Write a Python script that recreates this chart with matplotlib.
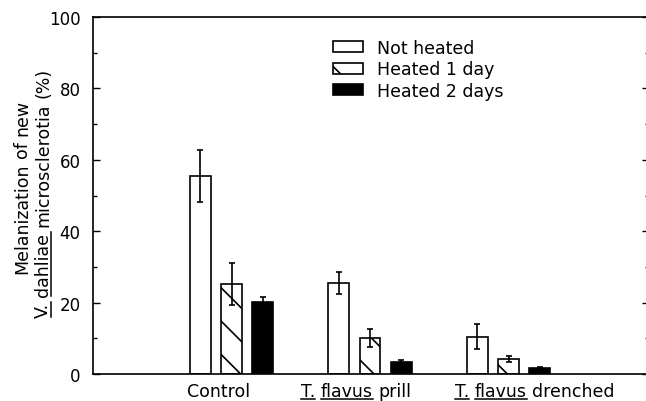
import matplotlib
matplotlib.use("Agg")
import matplotlib.pyplot as plt
from matplotlib.lines import Line2D
import numpy as np

groups = ["Control", "T. flavus prill", "T. flavus drenched"]
series = ["Not heated", "Heated 1 day", "Heated 2 days"]
not_heated = [55.5, 25.5, 10.5]
not_heated_err = [7.3, 3.0, 3.5]
heated_1 = [25.2, 10.0, 4.3]
heated_1_err = [6.0, 2.5, 0.8]
heated_2 = [20.2, 3.5, 1.7]
heated_2_err = [1.5, 0.5, 0.4]

# label pieces: (text, underlined)
group_segs = [[("Control", False)],
              [("T.", True), ("flavus", True), ("prill", False)],
              [("T.", True), ("flavus", True), ("drenched", False)]]
ylabel_segs = [[("Melanization", False), ("of", False), ("new", False)],
               [("V.", True), ("dahliae", True), ("microsclerotia", False), ("(%)", False)]]

W, H = 646, 402
FS = 12.5


def text_width(fig, r, s):
    t = fig.text(0, 0, s, fontsize=FS)
    w = t.get_window_extent(r).width
    t.remove()
    return w


def draw_segs(fig, r, cx, cy, segs, vertical=False):
    # cx, cy: centre of the line on the baseline, in pixels from top-left
    sp = text_width(fig, r, "a a") - text_width(fig, r, "aa")
    widths = [text_width(fig, r, s) for s, _ in segs]
    total = sum(widths) + sp * (len(segs) - 1)
    pos = -total / 2
    for (s, ul), w in zip(segs, widths):
        if vertical:
            x, y = cx, cy - pos
            fig.text(x / W, 1 - y / H, s, fontsize=FS, rotation=90,
                     rotation_mode="anchor", ha="left", va="baseline")
            if ul:
                fig.add_artist(Line2D([(x + 2.5) / W] * 2, [1 - y / H, 1 - (y - w) / H],
                                      transform=fig.transFigure, color="black", lw=1.1))
        else:
            x, y = cx + pos, cy
            fig.text(x / W, 1 - y / H, s, fontsize=FS, ha="left", va="baseline")
            if ul:
                fig.add_artist(Line2D([x / W, (x + w) / W], [1 - (y + 3) / H] * 2,
                                      transform=fig.transFigure, color="black", lw=1.1))
        pos += w + sp


def main():
    plt.rcParams["font.family"] = ["DejaVu Sans"]
    plt.rcParams["hatch.linewidth"] = 1.2
    fig = plt.figure(figsize=(W / 100, H / 100), dpi=100)
    ax = fig.add_axes([93 / W, 27 / H, 556 / W, 357 / H])
    r = fig.canvas.get_renderer()

    x = np.arange(1, len(groups) + 1)
    w = 0.15
    off = 0.225
    styles = [dict(color="white", hatch=None),
              dict(color="white", hatch="\\"),
              dict(color="black", hatch=None)]
    vals = [not_heated, heated_1, heated_2]
    errs = [not_heated_err, heated_1_err, heated_2_err]
    for i, (v, e, st, lab) in enumerate(zip(vals, errs, styles, series)):
        xs = x + (i - 1) * off
        ax.bar(xs, v, w, color=st["color"], edgecolor="black", lw=1.2,
               hatch=st["hatch"], label=lab, zorder=2)
        ax.errorbar(xs, v, yerr=e, fmt="none", ecolor="black", elinewidth=1.2,
                    capsize=2, capthick=1.2, zorder=3)

    ax.set_xlim(0, (649 - 93) / 138.5)
    ax.set_ylim(0, 100)
    ax.set_yticks(np.arange(0, 101, 20))
    ax.set_yticks(np.arange(10, 100, 20), minor=True)
    ax.tick_params(axis="y", which="both", direction="in", right=True,
                   labelsize=12, pad=9, width=1.0)
    ax.tick_params(axis="y", which="major", length=5)
    ax.tick_params(axis="y", which="minor", length=3)
    ax.set_xticks([])
    for s in ax.spines.values():
        s.set_linewidth(1.2)

    # group labels under the axis
    for cx, segs in zip([218.5, 356, 535], group_segs):
        draw_segs(fig, r, cx, 397, segs)

    # two-line y label
    draw_segs(fig, r, 27, 187, ylabel_segs[0], vertical=True)
    draw_segs(fig, r, 48, 193, ylabel_segs[1], vertical=True)

    ax.legend(loc="upper left", bbox_to_anchor=(333 / W, 1 - 40 / H),
              bbox_transform=fig.transFigure, frameon=False, fontsize=FS,
              handlelength=1.75, handleheight=0.6, handletextpad=0.8,
              labelspacing=0.2, borderpad=0, borderaxespad=0)

    fig.savefig("out.png", dpi=100)


if __name__ == "__main__":
    main()
